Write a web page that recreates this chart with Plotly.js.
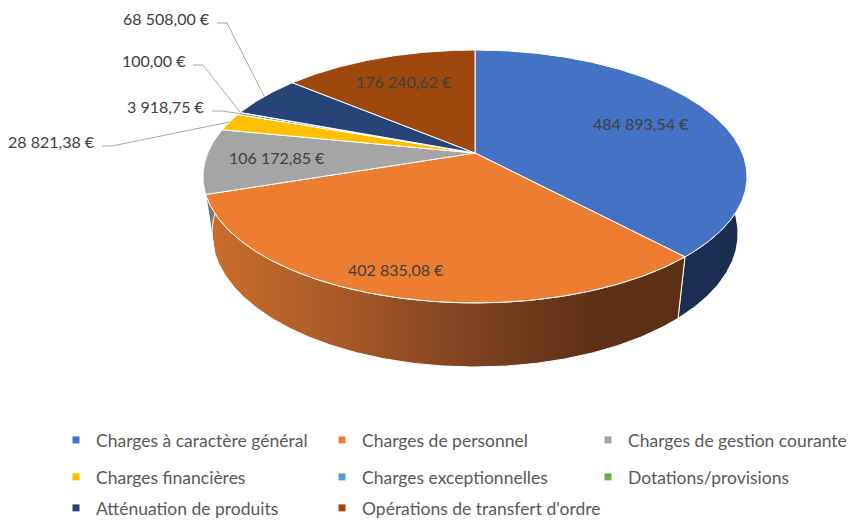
<!DOCTYPE html>
<html><head><meta charset="utf-8">
<script src="https://cdn.plot.ly/plotly-3.0.1.min.js"></script>
<style>html,body{margin:0;padding:0;background:#fff}</style>
</head><body><div id="chart" style="width:851px;height:521px"></div>
<script>
// ---- data ----
const categories = ["Charges à caractère général","Charges de personnel","Charges de gestion courante","Charges financières","Charges exceptionnelles","Dotations/provisions","Atténuation de produits","Opérations de transfert d'ordre"];
const values = [484893.54, 402835.08, 106172.85, 28821.38, 3918.75, 100.00, 68508.00, 176240.62];

// ---- styles ----
const topColors = ["#4472C4","#ED7D31","#A5A5A5","#FFC000","#5B9BD5","#70AD47","#264478","#9E480E"];
const sideColors = ["#1B2E52","#8A4A1E","#7A7A7A","#B08500","#3F6E98","#4E7A32","#1A2F55","#6E320A"];
const FONT = "Lato, 'Open Sans', sans-serif";

function fmt(v){
  const s = v.toFixed(2).split('.');
  return s[0].replace(/\B(?=(\d{3})+(?!\d))/g,' ') + ',' + s[1] + ' €';
}

// perspective projection of the pie disk
const CX=475, CY=153, A=267.3, B=122.1, K=0.1857;
function topPt(r,deg){
  const t=deg*Math.PI/180, u=r*Math.sin(t), v=r*Math.cos(t), den=1+K*v;
  return [CX+A*u/den, CY-B*v/den];
}
function botPt(deg){
  const p=topPt(1,deg);
  return [CX+0.967*(p[0]-CX), p[1]*1.0556+47.2];
}
function arc(f,a,b){
  const n=Math.max(2,Math.ceil(Math.abs(b-a)/0.5));
  const pts=[];
  for(let i=0;i<=n;i++) pts.push(f(a+(b-a)*i/n));
  return pts;
}

const total = values.reduce((s,v)=>s+v,0);
const starts=[], ends=[];
let acc=0;
values.forEach(v=>{starts.push(acc/total*360); acc+=v; ends.push(acc/total*360);});

const traces=[];
// side walls
values.forEach((v,i)=>{
  const a=Math.max(starts[i],90), b=Math.min(ends[i],270);
  if(b<=a) return;
  const tp=arc(d=>topPt(1,d),a,b), bp=arc(botPt,b,a);
  const pts=tp.concat(bp); pts.push(tp[0]);
  const tr={type:'scatter',mode:'lines',x:pts.map(p=>p[0]),y:pts.map(p=>p[1]),fill:'toself',
    fillcolor:sideColors[i],line:{color:'#ffffff',width:1},hoverinfo:'skip',showlegend:false};
  if(i===1){
    tr.fillgradient={type:'horizontal',start:205,stop:690,
      colorscale:[[0,'#CC6E2C'],[0.3,'#A65826'],[0.55,'#7E4220'],[0.8,'#5E3116'],[1,'#5C3015']]};
  }
  if(i===0){
    tr.fillgradient={type:'horizontal',start:680,stop:750,
      colorscale:[[0,'#1C2F53'],[1,'#1A2C4E']]};
  }
  traces.push(tr);
});
// top faces
values.forEach((v,i)=>{
  const pts=[[CX,CY]].concat(arc(d=>topPt(1,d),starts[i],ends[i]));
  pts.push([CX,CY]);
  traces.push({type:'scatter',mode:'lines',x:pts.map(p=>p[0]),y:pts.map(p=>p[1]),fill:'toself',
    fillcolor:topColors[i],line:{color:'#ffffff',width:1},hoverinfo:'skip',showlegend:false});
});

// labels
const annotations=[];
const inside={0:{r:0.7,dx:0,dy:0},1:{r:0.85,dx:-13,dy:-2},2:{r:0.7,dx:-10,dy:-1},7:{r:0.7,dx:0,dy:-2}};
const outside={3:[97,141],4:[207,106],5:[188,60],6:[212,18]};
values.forEach((v,i)=>{
  const mid=(starts[i]+ends[i])/2;
  if(inside[i]){
    const p=topPt(inside[i].r,mid);
    annotations.push({x:p[0]+inside[i].dx,y:p[1]+inside[i].dy,xref:'x',yref:'y',text:fmt(v),showarrow:false,
      font:{family:FONT,size:16,color:'#404040'},xanchor:'center',yanchor:'middle'});
  } else {
    const L=outside[i];
    annotations.push({x:L[0],y:L[1],xref:'x',yref:'y',text:fmt(v),showarrow:false,
      font:{family:FONT,size:16,color:'#404040'},xanchor:'right',yanchor:'middle'});
    const rim=topPt(1,mid);
    const x0=L[0]+5, y0=L[1]+5;
    const ex=Math.min(x0+10, rim[0]-2);
    traces.push({type:'scatter',mode:'lines',x:[x0,ex,rim[0]],y:[y0,y0,rim[1]],
      line:{color:'#A6A6A6',width:1},hoverinfo:'skip',showlegend:false});
  }
});

// legend entries
const legendIds=['legend','legend','legend','legend2','legend2','legend2','legend3','legend3'];
categories.forEach((c,i)=>{
  traces.push({type:'scatter',mode:'markers',x:[null],y:[null],name:c,legend:legendIds[i],
    marker:{symbol:'square',size:7,color:topColors[i]},hoverinfo:'skip'});
});
// empty spacer entry so the last row keeps the full three-column width
traces.push({type:'scatter',mode:'markers',x:[null],y:[null],name:' ',legend:'legend3',
  marker:{symbol:'square',size:7,color:'rgba(0,0,0,0)'},hoverinfo:'skip'});

function leg(y,anchor){
  return {orientation:'h',x:56/851,xanchor:'left',y:y,yanchor:anchor,
    entrywidth:221,entrywidthmode:'pixels',itemwidth:30,bgcolor:'rgba(0,0,0,0)',
    font:{family:FONT,size:17.5,color:'#595959'},itemclick:false,itemdoubleclick:false};
}

const layout={
  width:851,height:521,margin:{l:0,r:0,t:0,b:0,autoexpand:false},
  paper_bgcolor:'#ffffff',plot_bgcolor:'#ffffff',
  xaxis:{range:[0,851],visible:false,fixedrange:true},
  yaxis:{range:[521,0],visible:false,fixedrange:true},
  showlegend:true,
  legend:leg(1-440/521,'middle'),legend2:leg(1-477/521,'middle'),legend3:leg(1-508/521,'middle'),
  annotations:annotations,hovermode:false
};
Plotly.newPlot('chart',traces,layout,{displayModeBar:false,staticPlot:true});
</script>
</body></html>
